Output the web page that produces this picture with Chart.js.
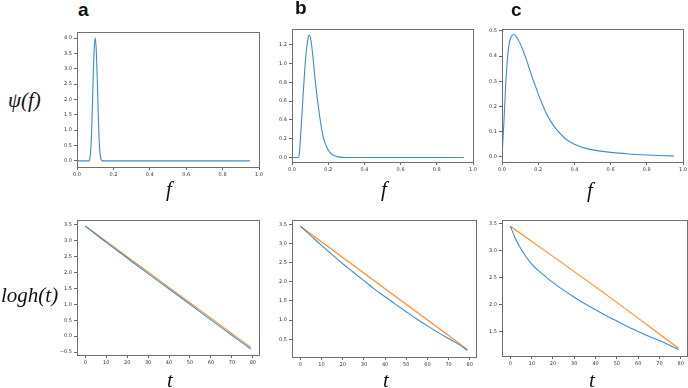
<!DOCTYPE html>
<html>
<head>
<meta charset="utf-8">
<script src="https://cdn.jsdelivr.net/npm/chart.js@4"></script>
<style>
  html, body { margin: 0; padding: 0; background: #fff; overflow: hidden; }
  body { width: 688px; height: 388px; position: relative; }
  canvas { position: absolute; }
  .lbl { position: absolute; white-space: nowrap; color: #111; }
  .panel { font-family: "Liberation Sans", Arial, sans-serif; font-weight: bold; font-size: 19px; }
  .math { font-family: "Liberation Serif", "DejaVu Serif", serif; font-style: italic; font-size: 21px; }
</style>
</head>
<body>
<canvas id="ta"></canvas>
<canvas id="tb"></canvas>
<canvas id="tc"></canvas>
<canvas id="ba"></canvas>
<canvas id="bb"></canvas>
<canvas id="bc"></canvas>

<div class="lbl panel" style="left:78px;top:-1px;">a</div>
<div class="lbl panel" style="left:295px;top:-3px;">b</div>
<div class="lbl panel" style="left:511px;top:-1px;">c</div>
<div class="lbl math" style="left:8px;top:88px;">ψ(f)</div>
<div class="lbl math" style="left:1px;top:283px;">logh(t)</div>
<div class="lbl math" style="left:166px;top:177px;">f</div>
<div class="lbl math" style="left:381px;top:177px;">f</div>
<div class="lbl math" style="left:587px;top:178px;">f</div>
<div class="lbl math" style="left:167px;top:368px;">t</div>
<div class="lbl math" style="left:383px;top:368px;">t</div>
<div class="lbl math" style="left:589px;top:368px;">t</div>

<script>
// top row: psi(f)
var fA   = [0, 0.065, 0.07, 0.075, 0.08, 0.085, 0.09, 0.095, 0.1, 0.105, 0.11, 0.115, 0.12, 0.125, 0.13, 0.135, 0.14, 0.95];
var psiA = [0, 0, 0.05, 0.3, 0.9, 1.9, 2.9, 3.7, 4.0, 3.7, 2.9, 1.9, 0.9, 0.35, 0.1, 0.02, 0, 0];

var fB   = [0, 0.035, 0.04, 0.045, 0.05, 0.06, 0.07, 0.08, 0.09, 0.096, 0.105, 0.115, 0.125, 0.135, 0.145, 0.155, 0.165, 0.175, 0.19, 0.2, 0.22, 0.25, 0.3, 0.95];
var psiB = [0, 0, 0.03, 0.15, 0.3, 0.62, 0.92, 1.15, 1.28, 1.3, 1.24, 1.08, 0.88, 0.7, 0.55, 0.41, 0.29, 0.2, 0.12, 0.08, 0.035, 0.01, 0, 0];

var fC   = [0, 0.01, 0.02, 0.03, 0.04, 0.05, 0.065, 0.08, 0.1, 0.12, 0.14, 0.16, 0.18, 0.2, 0.225, 0.25, 0.275, 0.3, 0.35, 0.4, 0.45, 0.5, 0.6, 0.7, 0.8, 0.9, 0.95];
var psiC = [0, 0.13, 0.28, 0.39, 0.45, 0.475, 0.485, 0.475, 0.45, 0.415, 0.375, 0.33, 0.29, 0.25, 0.205, 0.165, 0.135, 0.11, 0.072, 0.05, 0.037, 0.028, 0.018, 0.012, 0.008, 0.005, 0.004];

// bottom row: logh(t)
var tA = [0, 10, 20, 30, 40, 50, 60, 70, 79];
var blueA = [3.45, 2.94, 2.45, 1.96, 1.48, 1.0, 0.51, 0.03, -0.4];
var tLine = [0, 40, 79];
var orangeA = [3.45, 1.53, -0.35];

var tB = [0, 5, 10, 15, 20, 25, 30, 35, 40, 45, 50, 55, 60, 65, 70, 75, 79];
var blueB = [3.45, 3.20, 2.95, 2.71, 2.47, 2.25, 2.03, 1.81, 1.61, 1.41, 1.22, 1.03, 0.85, 0.68, 0.52, 0.36, 0.21];
var orangeB = [3.45, 1.82, 0.23];

var tC = [0, 2, 5, 10, 15, 20, 25, 30, 35, 40, 45, 50, 55, 60, 65, 70, 75, 79];
var blueC = [3.45, 3.25, 3.03, 2.75, 2.57, 2.41, 2.27, 2.14, 2.02, 1.91, 1.80, 1.70, 1.60, 1.51, 1.42, 1.34, 1.25, 1.17];
var orangeC = [3.45, 2.33, 1.2];

// tick labels
var fTicks = [0, 0.2, 0.4, 0.6, 0.8, 1.0];
var tTicks = [0, 10, 20, 30, 40, 50, 60, 70, 80];
var yTicksTA = [0, 0.5, 1.0, 1.5, 2.0, 2.5, 3.0, 3.5, 4.0];
var yTicksTB = [0, 0.2, 0.4, 0.6, 0.8, 1.0, 1.2];
var yTicksTC = [0, 0.1, 0.2, 0.3, 0.4, 0.5];
var yTicksBA = [-0.5, 0, 0.5, 1.0, 1.5, 2.0, 2.5, 3.0, 3.5];
var yTicksBB = [0.5, 1.0, 1.5, 2.0, 2.5, 3.0, 3.5];
var yTicksBC = [1.5, 2.0, 2.5, 3.0, 3.5];

var BLUE = '#3f8ccb';
var ORANGE = '#ff8a1f';

function pts(xs, ys) {
    return xs.map(function (x, i) { return { x: x, y: ys[i] }; });
}

var framePlugin = {
    id: 'frame',
    afterDraw: function (chart) {
        var a = chart.chartArea, c = chart.ctx;
        c.save();
        c.strokeStyle = '#6f6f6f';
        c.lineWidth = 1;
        c.strokeRect(Math.round(a.left) + 0.5, Math.round(a.top) + 0.5, Math.round(a.right - a.left), Math.round(a.bottom - a.top));
        c.restore();
    }
};

var AXW = 30, AXH = 16, PT = 8, PR = 10;

function makePanel(id, box, xr, yr, xt, yt, xdec, datasets) {
    var cv = document.getElementById(id);
    var w = Math.round(box.r - box.l) + AXW + PR;
    var h = Math.round(box.b - box.t) + AXH + PT;
    cv.width = w; cv.height = h;
    cv.style.left = Math.round(box.l - AXW) + 'px';
    cv.style.top = Math.round(box.t - PT) + 'px';
    cv.style.width = w + 'px'; cv.style.height = h + 'px';
    var tickFont = { family: 'DejaVu Sans', size: 5 };
    new Chart(cv.getContext('2d'), {
        type: 'line',
        data: { datasets: datasets },
        plugins: [framePlugin],
        options: {
            responsive: false,
            animation: false,
            events: [],
            layout: { padding: { top: PT, right: PR, left: 0, bottom: 0 } },
            plugins: { legend: { display: false }, tooltip: { enabled: false } },
            elements: { point: { radius: 0 }, line: { borderWidth: 1.1, cubicInterpolationMode: 'monotone' } },
            scales: {
                x: {
                    type: 'linear', min: xr[0], max: xr[1],
                    border: { display: false },
                    grid: { display: true, drawOnChartArea: false, drawTicks: true, tickLength: 3, color: '#666' },
                    ticks: { font: tickFont, color: '#333', padding: 2, maxRotation: 0, autoSkip: false,
                        callback: function (v) { return xdec ? v.toFixed(1) : String(v); } },
                    afterBuildTicks: function (ax) { ax.ticks = xt.map(function (v) { return { value: v }; }); },
                    afterFit: function (ax) { ax.height = AXH; }
                },
                y: {
                    type: 'linear', min: yr[0], max: yr[1],
                    border: { display: false },
                    grid: { display: true, drawOnChartArea: false, drawTicks: true, tickLength: 3, color: '#666' },
                    ticks: { font: tickFont, color: '#333', padding: 2, autoSkip: false,
                        callback: function (v) { return v < 0 ? '\u2212' + Math.abs(v).toFixed(1) : v.toFixed(1); } },
                    afterBuildTicks: function (ax) { ax.ticks = yt.map(function (v) { return { value: v }; }); },
                    afterFit: function (ax) { ax.width = AXW; }
                }
            }
        }
    });
}

function line(xs, ys, color) {
    return { data: pts(xs, ys), borderColor: color, backgroundColor: color, fill: false };
}

makePanel('ta', { l: 77, t: 32, r: 259, b: 167 }, [0, 1.0], [-0.2, 4.2], fTicks, yTicksTA, true, [line(fA, psiA, BLUE)]);
makePanel('tb', { l: 292, t: 29, r: 473, b: 162 }, [0, 1.0], [-0.047, 1.365], fTicks, yTicksTB, true, [line(fB, psiB, BLUE)]);
makePanel('tc', { l: 502, t: 29, r: 683, b: 162 }, [0, 1.0], [-0.02, 0.507], fTicks, yTicksTC, true, [line(fC, psiC, BLUE)]);

var tRange = [-3.95, 82.95];
makePanel('ba', { l: 77, t: 220, r: 259, b: 355 }, tRange, [-0.59, 3.64], tTicks, yTicksBA, false,
    [line(tA, blueA, BLUE), line(tLine, orangeA, ORANGE)]);
makePanel('bb', { l: 292, t: 220, r: 476, b: 357 }, tRange, [0.0375, 3.6125], tTicks, yTicksBB, false,
    [line(tB, blueB, BLUE), line(tLine, orangeB, ORANGE)]);
makePanel('bc', { l: 502, t: 220, r: 687, b: 356 }, tRange, [1.056, 3.564], tTicks, yTicksBC, false,
    [line(tC, blueC, BLUE), line(tLine, orangeC, ORANGE)]);
</script>
</body>
</html>
